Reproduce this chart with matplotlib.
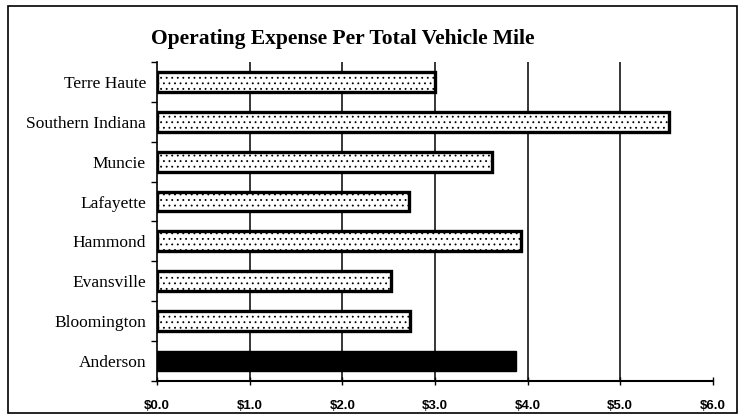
import matplotlib.pyplot as plt
import matplotlib.patches as patches
import numpy as np

cities = ['Terre Haute', 'Southern Indiana', 'Muncie', 'Lafayette',
          'Hammond', 'Evansville', 'Bloomington', 'Anderson']
expense = [3.00, 5.53, 3.62, 2.72, 3.93, 2.53, 2.73, 3.88]
ticks = [0, 1, 2, 3, 4, 5, 6]
tick_labels = ['$0.0', '$1.0', '$2.0', '$3.0', '$4.0', '$5.0', '$6.0']

plt.rcParams['hatch.color'] = '#bdbdbd'
plt.rcParams['hatch.linewidth'] = 0.6

fig = plt.figure(figsize=(7.41, 4.19), dpi=100)
ax = fig.add_axes([0.212, 0.091, 0.750, 0.761])

# outer frame around the whole chart
fig.patches.append(patches.Rectangle((0.011, 0.014), 0.983, 0.972,
                                     transform=fig.transFigure, fill=False,
                                     edgecolor='black', linewidth=1.2))

y = np.arange(len(cities))[::-1]
for i in range(len(cities)):
    if cities[i] == 'Anderson':
        ax.barh(y[i], expense[i], height=0.5, color='black',
                edgecolor='black', zorder=3)
    else:
        ax.barh(y[i], expense[i], height=0.5, color='white', hatch='...',
                edgecolor='black', linewidth=2.4, zorder=3)

ax.set_xlim(0, 6)
ax.set_ylim(-0.5, len(cities) - 0.5)
for g in [1, 2, 3, 4, 5]:
    ax.axvline(g, color='black', linewidth=1.1, zorder=1)

ax.set_xticks(ticks)
ax.set_xticklabels(tick_labels, fontfamily='Liberation Sans',
                   fontweight='bold', fontsize=9.5)
ax.tick_params(axis='x', direction='inout', length=6, width=1, pad=11)

ax.set_yticks(y)
ax.set_yticklabels(cities, fontfamily='Liberation Serif', fontsize=12.5)
ax.tick_params(axis='y', which='major', length=0, pad=8)
ax.set_yticks(np.arange(len(cities) + 1) - 0.5, minor=True)
ax.tick_params(axis='y', which='minor', length=4, width=1, direction='out')

ax.spines['top'].set_visible(False)
ax.spines['right'].set_visible(False)
ax.spines['left'].set_linewidth(1.2)
ax.spines['bottom'].set_linewidth(1.5)

fig.text(0.462, 0.908, 'Operating Expense Per Total Vehicle Mile',
         ha='center', va='center', fontfamily='Liberation Serif',
         fontweight='bold', fontsize=15.5)

fig.savefig('out.png', dpi=100)
